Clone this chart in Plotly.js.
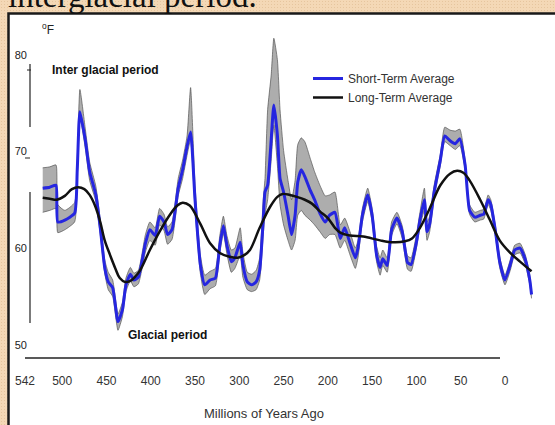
<!DOCTYPE html>
<html>
<head>
<meta charset="utf-8">
<script src="https://cdn.plot.ly/plotly-3.0.1.min.js"></script>
<style>
  html, body { margin:0; padding:0; }
  body {
    width:555px; height:425px; overflow:hidden;
    background-color:#f4d8b6;
    background-image: radial-gradient(#e6c59e 0.9px, transparent 1px);
    background-size: 3px 3px;
  }
  #chart { width:555px; height:425px; }
</style>
</head>
<body>
<div id="chart"></div>
<script>
// Ages (Millions of Years Ago), read against the axis as labelled
const stAge = [522,514,507,505,497,486,483,480,474,469,462,457,452,448,443,437,432,428,423,419,414,406,401,395,390,385,381,376,369,364,359,355,350,344,339,333,327,322,318,314,309,305,299,296,291,286,281,277,273,271,268,264,261,257,254,250,245,241,237,234,230,226,220,215,209,203,198,192,186,181,175,169,166,161,155,150,145,141,138,133,128,122,116,110,106,100,96,91,88,85,80,73,68,62,56,51,45,40,34,28,24,19,16,11,6,0,-6,-11,-17,-23,-28,-30];
// Short-term average (deg F)
const stTemp = [66.2,66.3,66.5,62.7,62.9,63.6,68.1,74.1,71.2,67.9,65.5,62.1,58.0,56.5,55.9,52.4,53.6,56.2,57.3,56.7,57.0,60.5,61.9,61.3,63.3,62.7,61.4,61.9,66.2,68.1,70.5,72.0,65.0,58.3,56.2,56.7,56.9,60.3,62.3,60.3,58.6,59.0,60.6,58.3,56.5,56.2,56.5,57.7,62.9,65.8,66.5,71.2,74.8,71.7,67.2,65.8,63.4,61.4,63.4,66.8,68.1,67.4,66.0,65.0,63.6,62.7,63.4,63.7,61.0,62.1,60.5,59.0,60.0,63.4,65.5,63.4,59.3,58.0,58.9,58.2,61.9,63.1,61.7,58.5,58.3,60.6,62.9,65.0,61.7,62.5,65.8,69.1,71.6,71.1,70.8,71.3,68.6,63.9,63.2,63.4,63.5,65.0,64.5,61.9,58.6,56.7,58.3,59.8,60.0,58.8,56.7,55.2];
// Uncertainty range of the short-term average (deg F)
const bandHigh = [68.3,68.4,68.6,64.5,63.9,64.7,69.1,76.4,72.4,68.9,66.4,62.9,58.8,57.5,56.7,53.2,54.4,56.9,58.0,57.4,57.7,61.4,62.7,62.1,64.1,63.5,62.2,62.7,67.2,69.1,71.6,76.6,66.5,59.3,57.2,57.6,57.9,61.3,63.3,61.3,59.8,60.0,62.1,59.6,57.5,57.3,57.7,59.0,65.0,67.2,74.3,77.9,81.7,79.5,74.3,70.1,67.0,65.0,67.0,70.7,71.4,71.0,69.3,67.9,66.5,65.4,65.5,65.8,62.4,63.1,61.7,60.0,60.8,64.1,66.2,64.1,60.2,59.0,59.8,59.0,62.7,63.7,62.3,59.2,59.0,61.4,63.7,66.2,62.7,63.3,66.5,69.7,72.5,72.2,72.1,72.3,69.1,64.5,63.7,63.9,64.0,65.5,65.0,62.4,59.1,57.2,58.8,60.3,60.5,59.3,57.2,55.7];
const bandLow = [63.7,63.9,64.1,61.6,61.9,62.7,67.2,73.5,70.4,67.0,64.8,61.4,57.4,55.7,55.0,51.5,52.9,55.5,56.6,56.0,56.3,59.6,60.8,60.3,62.4,61.8,60.4,60.9,65.4,67.2,69.6,71.2,64.1,57.4,55.2,55.8,56.1,59.5,61.5,59.4,57.5,57.9,59.2,57.0,55.7,55.5,55.7,56.7,61.4,63.4,65.0,69.1,72.7,68.6,64.5,62.4,60.8,59.8,60.8,63.4,63.9,63.4,62.9,62.4,61.7,61.0,61.4,61.4,60.0,60.8,59.3,57.9,59.0,62.7,64.8,62.7,58.6,57.2,58.2,57.5,61.3,62.5,61.0,57.8,57.6,60.0,62.2,63.9,60.8,61.7,65.2,68.5,71.0,70.6,70.2,70.6,68.1,63.5,62.7,62.9,63.0,64.5,63.9,61.4,58.0,56.2,57.7,59.3,59.5,58.3,56.2,54.8];
// Long-term average
const ltAge = [522,514,506,497,489,482,475,469,463,457,452,446,440,435,429,423,418,412,401,390,378,370,364,356,344,333,322,311,302,294,288,277,265,257,251,243,235,226,218,209,200,192,186,175,160,141,126,113,105,96,85,73,62,54,47,40,28,17,6,-6,-17,-30];
const ltTemp = [65.2,65.1,65.0,65.4,66.1,66.3,66.1,65.5,64.4,62.7,60.8,59.3,57.9,56.9,56.5,56.6,57.0,57.7,59.8,61.7,63.5,64.4,64.7,64.4,62.5,60.5,59.5,59.1,59.0,59.3,59.8,62.1,64.3,65.3,65.6,65.5,65.3,65.0,64.6,63.8,63.1,62.1,61.6,61.3,61.2,60.8,60.6,60.7,61.0,62.1,64.1,66.5,67.7,68.0,67.8,67.0,65.0,62.9,60.8,59.5,58.6,57.6];
// Axis ticks
const xTicks = [542,500,450,400,350,300,250,200,150,100,50,0];
const yTicks = [50,60,70,80];

const bandLine = {color:'rgba(80,80,80,0.85)', width:0.8, shape:'spline', smoothing:0.5};
const traces = [
  {x:stAge, y:bandLow, mode:'lines', line:bandLine, showlegend:false, hoverinfo:'skip'},
  {x:stAge, y:bandHigh, mode:'lines', line:bandLine, fill:'tonexty', fillcolor:'#adadad', showlegend:false, hoverinfo:'skip'},
  {x:stAge, y:stTemp, mode:'lines', name:'Short-Term Average',
   line:{color:'#2626e0', width:3, shape:'spline', smoothing:0.5}},
  {x:ltAge, y:ltTemp, mode:'lines', name:'Long-Term Average',
   line:{color:'#111111', width:2.5, shape:'spline', smoothing:1}}
];

const px = v => (v - 25) / 520;      // helper: page x -> paper x
const py = v => (358 - v) / 328;     // helper: page y -> paper y

const layout = {
  width:555, height:425,
  margin:{l:25, r:10, t:30, b:67},
  paper_bgcolor:'rgba(0,0,0,0)',
  plot_bgcolor:'rgba(0,0,0,0)',
  font:{family:'Arial, Liberation Sans, sans-serif', color:'#333'},
  xaxis:{
    range:[542,-45.2], tickvals:xTicks, ticktext:xTicks.map(String),
    showgrid:false, zeroline:false, showline:false,
    ticks:'', tickfont:{size:12, color:'#333'}, ticklabelstandoff:14
  },
  yaxis:{
    range:[48.635,82.554], tickvals:yTicks, ticktext:yTicks.map(String),
    showgrid:false, zeroline:false, showline:false, ticks:'',
    tickfont:{size:11, color:'#222'}, ticklabelstandoff:-3
  },
  showlegend:true,
  legend:{x:px(308), y:py(64), xanchor:'left', yanchor:'top', traceorder:'normal',
    bgcolor:'rgba(0,0,0,0)', font:{size:12, color:'#333'}, itemwidth:30, tracegroupgap:0},
  shapes:[
    {type:'rect', xref:'paper', yref:'paper', x0:px(8.5), x1:px(562), y0:py(432), y1:py(13.5),
     fillcolor:'#ffffff', line:{color:'#1a1a1a', width:2.5}, layer:'below'},
    {type:'line', xref:'paper', yref:'paper', x0:0, x1:px(500), y0:0, y1:0, line:{color:'#222', width:1.5}},
    {type:'line', xref:'paper', yref:'paper', x0:px(30), x1:px(30), y0:py(64), y1:py(127), line:{color:'#222', width:1.2}},
    {type:'line', xref:'paper', yref:'paper', x0:px(30), x1:px(30), y0:py(192), y1:py(323), line:{color:'#222', width:1.2}},
    {type:'line', xref:'paper', yref:'paper', x0:px(27), x1:px(31), y0:py(70), y1:py(70), line:{color:'#222', width:1}},
    {type:'line', xref:'paper', yref:'paper', x0:px(25), x1:px(30), y0:py(158), y1:py(158), line:{color:'#222', width:1}}
  ],
  annotations:[
    {text:'interglacial period.', xref:'paper', yref:'paper', x:px(6), y:py(16), xanchor:'left', yanchor:'bottom',
     showarrow:false, font:{family:'Liberation Serif, Times New Roman, serif', size:33, color:'#111'}},
    {text:'<sup>o</sup>F', xref:'paper', yref:'paper', x:px(40), y:py(29), xanchor:'left', yanchor:'middle',
     showarrow:false, font:{size:12, color:'#222'}},
    {text:'<b>Inter glacial period</b>', xref:'paper', yref:'paper', x:px(50), y:py(70), xanchor:'left', yanchor:'middle',
     showarrow:false, font:{size:12, color:'#111'}},
    {text:'<b>Glacial period</b>', xref:'paper', yref:'paper', x:px(126), y:py(335), xanchor:'left', yanchor:'middle',
     showarrow:false, font:{size:12, color:'#111'}},
    {text:'Millions of Years Ago', xref:'paper', yref:'paper', x:px(264), y:py(413), xanchor:'center', yanchor:'middle',
     showarrow:false, font:{size:13, color:'#333'}}
  ]
};

Plotly.newPlot('chart', traces, layout, {displayModeBar:false, staticPlot:true});
</script>
</body>
</html>
